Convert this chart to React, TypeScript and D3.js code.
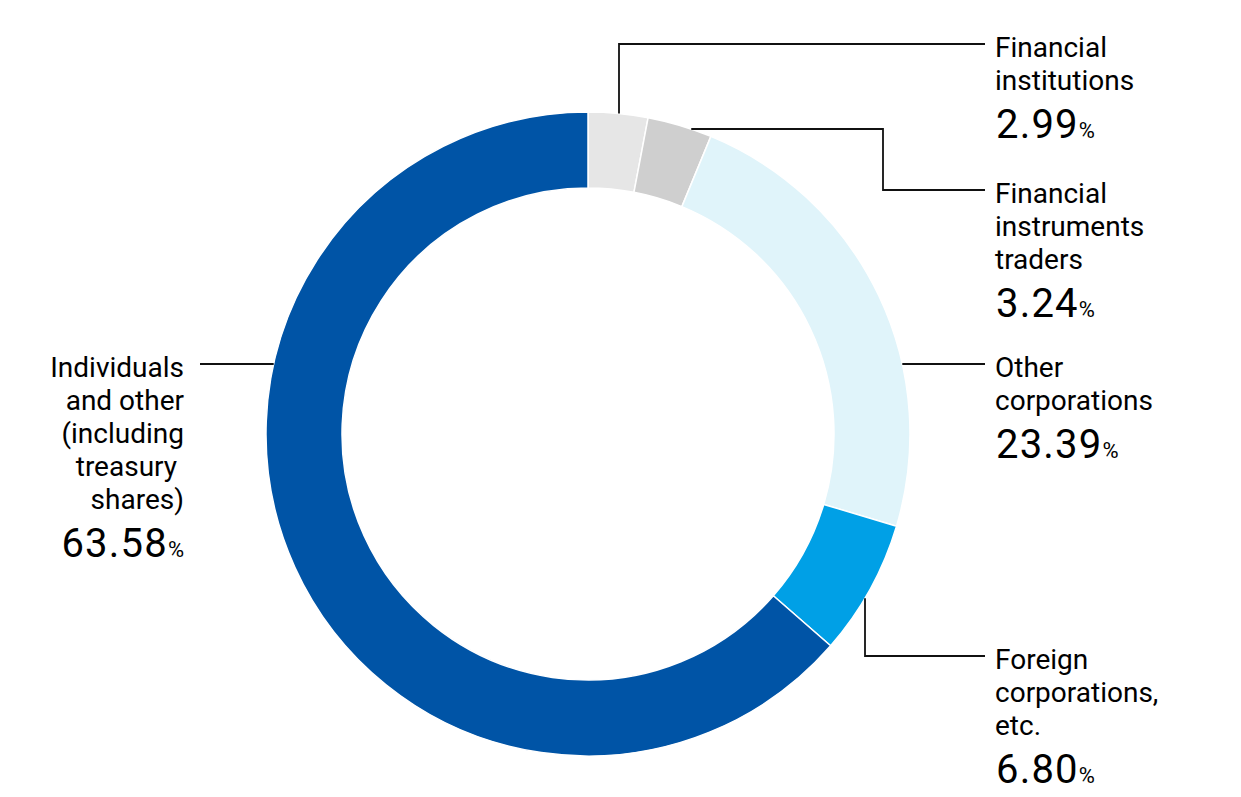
import React from 'react';
import * as d3 from 'd3';

// Shareholder composition, clockwise from 12 o'clock
const categories = [
  'Financial institutions',
  'Financial instruments traders',
  'Other corporations',
  'Foreign corporations, etc.',
  'Individuals and other (including treasury shares)',
];
const shares = [2.99, 3.24, 23.39, 6.8, 63.58];
const sliceColors = ['#e6e6e6', '#cfcfcf', '#e0f4fa', '#00a0e6', '#0054a6'];

// how each label wraps in the picture
const labelLines = [
  ['Financial', 'institutions'],
  ['Financial', 'instruments', 'traders'],
  ['Other', 'corporations'],
  ['Foreign', 'corporations,', 'etc.'],
  ['Individuals', 'and other', '(including', 'treasury ', 'shares)'],
];

const W = 1241;
const H = 797;
const cx = 588;
const cy = 434;
const outerR = 322;
const innerR = 246;
const lineH = 33;
const font = 'Roboto, "Noto Sans", sans-serif';

type Leader = {
  // 'v' = leaves the ring vertically at x, 'h' = horizontally at y
  kind: 'v' | 'h';
  at: number;
  side: 1 | -1;
  rest: Array<[number, number]>;
  textX: number;
  textY: number;
  anchor: 'start' | 'end';
};

const leaders: Leader[] = [
  { kind: 'v', at: 619, side: -1, rest: [[619, 44], [985, 44]], textX: 995, textY: 57, anchor: 'start' },
  { kind: 'h', at: 129, side: 1, rest: [[883, 129], [883, 190], [985, 190]], textX: 995, textY: 203, anchor: 'start' },
  { kind: 'h', at: 364, side: 1, rest: [[985, 364]], textX: 995, textY: 377, anchor: 'start' },
  { kind: 'v', at: 865, side: 1, rest: [[865, 656], [985, 656]], textX: 995, textY: 669, anchor: 'start' },
  { kind: 'h', at: 364, side: -1, rest: [[200, 364]], textX: 184, textY: 377, anchor: 'end' },
];

function ringPoint(l: Leader): [number, number] {
  if (l.kind === 'v') {
    const dx = l.at - cx;
    return [l.at, cy + l.side * Math.sqrt(outerR * outerR - dx * dx)];
  }
  const dy = l.at - cy;
  return [cx + l.side * Math.sqrt(outerR * outerR - dy * dy), l.at];
}

export default function App() {
  const pie = d3
    .pie<number>()
    .sort(null)
    .value((d) => d);
  const arcs = pie(shares);
  const arc = d3.arc<d3.PieArcDatum<number>>().innerRadius(innerR).outerRadius(outerR);
  const line = d3.line();

  return (
    <svg
      width={W}
      height={H}
      style={{ position: 'absolute', left: 0, top: 0, background: '#fff' }}
    >
      <g transform={`translate(${cx},${cy})`}>
        {arcs.map((a, i) => (
          <path
            key={categories[i]}
            d={arc(a) || ''}
            fill={sliceColors[i]}
            stroke="#fff"
            strokeWidth={1.5}
          />
        ))}
      </g>
      {leaders.map((l, i) => (
        <g key={categories[i]}>
          <path
            d={line([ringPoint(l), ...l.rest]) || ''}
            fill="none"
            stroke="#111"
            strokeWidth={1.8}
          />
          <text
            fontFamily={font}
            fontSize={28}
            fill="#000"
            textAnchor={l.anchor}
            style={{ whiteSpace: 'pre' }}
          >
            {labelLines[i].map((t, j) => (
              <tspan key={j} x={l.textX} y={l.textY + j * lineH}>
                {t}
              </tspan>
            ))}
          </text>
          <text
            x={l.anchor === 'end' ? l.textX : l.textX + 1}
            y={l.textY + (labelLines[i].length - 1) * lineH + 48}
            fontFamily={font}
            fill="#000"
            textAnchor={l.anchor}
          >
            <tspan fontSize={40} letterSpacing={1.2}>{shares[i].toFixed(2)}</tspan>
            <tspan fontSize={22}>%</tspan>
          </text>
        </g>
      ))}
    </svg>
  );
}
